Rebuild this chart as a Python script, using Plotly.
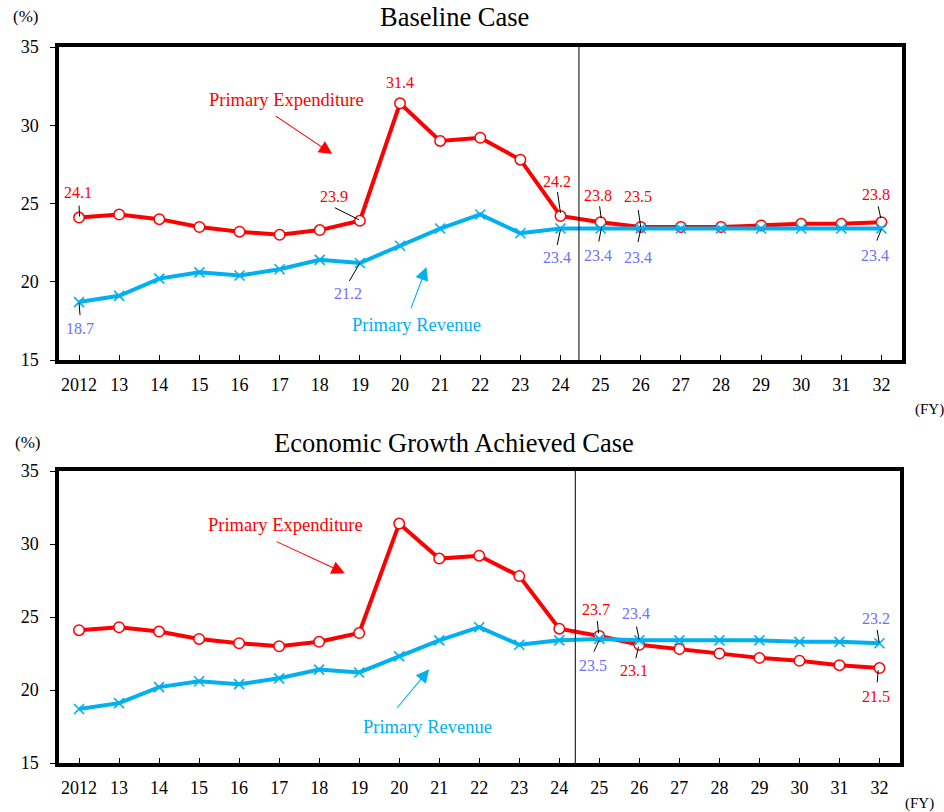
import plotly.graph_objects as go

# Fiscal years (FY2012 - FY2032)
years = ["2012", "13", "14", "15", "16", "17", "18", "19", "20", "21", "22",
         "23", "24", "25", "26", "27", "28", "29", "30", "31", "32"]

# Baseline case (% of GDP)
base_expenditure = [24.1, 24.3, 24.0, 23.5, 23.2, 23.0, 23.3, 23.9, 31.4, 29.0, 29.2,
                    27.8, 24.2, 23.8, 23.5, 23.5, 23.5, 23.6, 23.7, 23.7, 23.8]
base_revenue = [18.7, 19.1, 20.2, 20.6, 20.4, 20.8, 21.4, 21.2, 22.3, 23.4, 24.3,
                23.1, 23.4, 23.4, 23.4, 23.4, 23.4, 23.4, 23.4, 23.4, 23.4]

# Economic growth achieved case (% of GDP)
growth_expenditure = [24.1, 24.3, 24.0, 23.5, 23.2, 23.0, 23.3, 23.9, 31.4, 29.0, 29.2,
                      27.8, 24.2, 23.7, 23.1, 22.8, 22.5, 22.2, 22.0, 21.7, 21.5]
growth_revenue = [18.7, 19.1, 20.2, 20.6, 20.4, 20.8, 21.4, 21.2, 22.3, 23.4, 24.3,
                  23.1, 23.4, 23.5, 23.4, 23.4, 23.4, 23.4, 23.3, 23.3, 23.2]

y_ticks = [15, 20, 25, 30, 35]

RED = "#FF0000"
BLUE = "#00B0F0"
LABEL_BLUE = "#7070FF"
FONT = "Times New Roman, Liberation Serif, serif"
W, H = 944, 812

fig = go.Figure()


def add_series(xref, yref, exp, rev):
    fig.add_trace(go.Scatter(
        x=years, y=exp, xaxis=xref, yaxis=yref, mode="lines+markers",
        line=dict(color=RED, width=4),
        marker=dict(symbol="circle", size=10.5, color="white",
                    line=dict(color=RED, width=1.5)),
        showlegend=False, hoverinfo="x+y"))
    fig.add_trace(go.Scatter(
        x=years, y=rev, xaxis=xref, yaxis=yref, mode="lines+markers",
        line=dict(color=BLUE, width=4),
        marker=dict(symbol="x-thin", size=10, color=BLUE,
                    line=dict(color=BLUE, width=1.6)),
        showlegend=False, hoverinfo="x+y"))


add_series("x", "y", base_expenditure, base_revenue)
add_series("x2", "y2", growth_expenditure, growth_revenue)


def value_label(xref, yref, series, i, color, dx, dy, leader=None):
    """Value text offset (dx, dy screen px) from point i, with an optional leader line."""
    v = series[i]
    fig.add_annotation(
        x=i, y=v, xref=xref, yref=yref, text=f"{v:.1f}",
        showarrow=False, xshift=dx, yshift=-dy, xanchor="center", yanchor="middle",
        font=dict(family=FONT, size=16, color=color))
    if leader:
        (lx0, ly0), (lx1, ly1) = leader
        fig.add_shape(
            type="line", xref=xref, yref=yref,
            xsizemode="pixel", ysizemode="pixel",
            xanchor=i, yanchor=v,
            x0=lx0, x1=lx1, y0=-ly0, y1=-ly1,
            line=dict(color="black", width=1))


# Baseline case labels
value_label("x", "y", base_expenditure, 0, RED, -1, -25, ((0, -12), (0.5, -1)))
value_label("x", "y", base_expenditure, 7, RED, -26, -24, ((-25, -13), (-1, -1)))
value_label("x", "y", base_expenditure, 8, RED, 0, -21)
value_label("x", "y", base_expenditure, 12, RED, -3, -35, ((-3, -24), (0, -3)))
value_label("x", "y", base_expenditure, 13, RED, -3, -27, ((-1, -16), (0.6, -4)))
value_label("x", "y", base_expenditure, 14, RED, -3, -30, ((-2.5, -17), (0, 0)))
value_label("x", "y", base_expenditure, 20, RED, -5, -28, ((-3.3, -16), (-0.6, -4)))
value_label("x", "y", base_revenue, 0, LABEL_BLUE, 1, 26, ((0, 1), (1, 13)))
value_label("x", "y", base_revenue, 7, LABEL_BLUE, -12, 31, ((0, 0), (-10.5, 18)))
value_label("x", "y", base_revenue, 12, LABEL_BLUE, -3, 28.5, ((0, 1), (-3.3, 16.5)))
value_label("x", "y", base_revenue, 13, LABEL_BLUE, -3, 26.5, ((1, -1.5), (-1.8, 13)))
value_label("x", "y", base_revenue, 14, LABEL_BLUE, -3, 28.5, ((0, 0.5), (-2.7, 13.5)))
value_label("x", "y", base_revenue, 20, LABEL_BLUE, -6, 26.5, ((0, 0.5), (-4.6, 12)))

# Economic growth achieved case labels
value_label("x2", "y2", growth_expenditure, 13, RED, -3.5, -26, ((-2, -15), (-0.7, -2.7)))
value_label("x2", "y2", growth_expenditure, 14, RED, -5.5, 26, ((-0.8, 2), (-3.5, 13.6)))
value_label("x2", "y2", growth_expenditure, 20, RED, -3, 28, ((-1.3, 2), (-2.3, 14.2)))
value_label("x2", "y2", growth_revenue, 13, LABEL_BLUE, -6, 27, ((0, 1), (-5.4, 12.8)))
value_label("x2", "y2", growth_revenue, 14, LABEL_BLUE, -3, -26.5, ((-2.8, -13.7), (-0.2, -1)))
value_label("x2", "y2", growth_revenue, 20, LABEL_BLUE, -3, -24.6, ((-2.3, -13.3), (-0.3, -0.6)))


def series_name(xref, yref, text, color, pos, tail, head):
    fig.add_annotation(x=pos[0], y=pos[1], xref=xref, yref=yref, text=text,
                       showarrow=False, xanchor="center", yanchor="middle",
                       font=dict(family=FONT, size=18.5, color=color))
    fig.add_annotation(x=head[0], y=head[1], ax=tail[0], ay=tail[1],
                       xref=xref, yref=yref, axref=xref, ayref=yref, text="",
                       showarrow=True, arrowhead=2, arrowsize=2.4, arrowwidth=1.1,
                       arrowcolor=color)


series_name("x", "y", "Primary Expenditure", RED, (5.17, 31.6), (4.87, 30.65), (6.31, 28.16))
series_name("x", "y", "Primary Revenue", BLUE, (8.41, 17.24), (8.26, 18.2), (8.66, 20.94))
series_name("x2", "y2", "Primary Expenditure", RED, (5.17, 31.3), (4.9, 30.21), (6.64, 28.0))
series_name("x2", "y2", "Primary Revenue", BLUE, (8.71, 17.49), (7.92, 18.68), (8.75, 21.42))

# Boundary between actual figures and projections
fig.add_shape(type="line", xref="x", yref="y domain", x0=12.46, x1=12.46, y0=0, y1=1,
              line=dict(color="black", width=1))
fig.add_shape(type="line", xref="x2", yref="y2 domain", x0=12.4, x1=12.4, y0=0, y1=1,
              line=dict(color="black", width=1))


def paper_text(px, py, text, size):
    fig.add_annotation(x=px / W, y=1 - py / H, xref="paper", yref="paper", text=text,
                       showarrow=False, xanchor="center", yanchor="middle",
                       font=dict(family=FONT, size=size, color="black"))


# Titles and unit labels
paper_text(454.7, 17, "Baseline Case", 26.5)
paper_text(453.7, 443, "Economic Growth Achieved Case", 26.5)
paper_text(25, 16.5, "(%)", 17)
paper_text(27.5, 442.5, "(%)", 17)
paper_text(929, 409, "(FY)", 15)
paper_text(919, 803, "(FY)", 15)

xaxis_style = dict(
    type="category", range=[-0.5, 20.5], showgrid=False, zeroline=False, automargin=False,
    showline=True, linecolor="black", linewidth=3.5, mirror=True,
    ticks="inside", ticklen=5, tickcolor="black", tickwidth=1,
    tickfont=dict(family=FONT, size=18, color="black"), ticklabelstandoff=6)
yaxis_style = dict(
    range=[15, 35], tickvals=y_ticks, showgrid=False, zeroline=False, automargin=False,
    showline=True, linecolor="black", linewidth=3.5, mirror=True,
    ticks="outside", ticklen=5, tickcolor="black", tickwidth=1,
    tickfont=dict(family=FONT, size=18, color="black"), ticklabelstandoff=8)

fig.update_layout(
    width=W, height=H, margin=dict(l=0, r=0, t=0, b=0),
    paper_bgcolor="white", plot_bgcolor="white",
    xaxis=dict(domain=[59 / W, 901.5 / W], anchor="y", **xaxis_style),
    yaxis=dict(domain=[1 - 360 / H, 1 - 47 / H], anchor="x", **yaxis_style),
    xaxis2=dict(domain=[59 / W, 899.5 / W], anchor="y2", **xaxis_style),
    yaxis2=dict(domain=[1 - 763 / H, 1 - 471 / H], anchor="x2", **yaxis_style),
)

fig.write_html("out.html")
